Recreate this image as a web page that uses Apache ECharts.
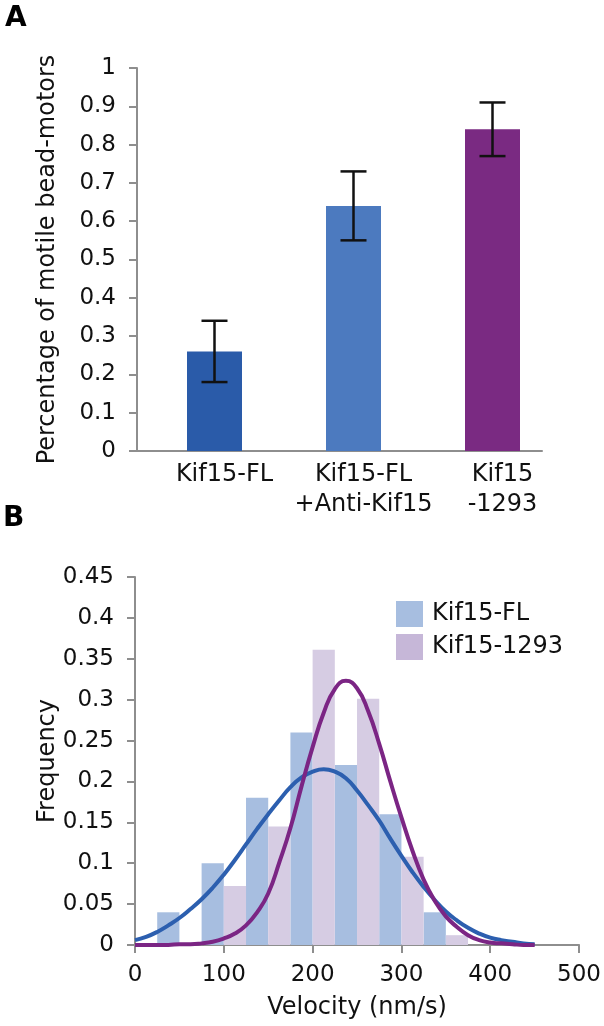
<!DOCTYPE html>
<html>
<head>
<meta charset="utf-8">
<script src="https://cdn.jsdelivr.net/npm/echarts@6/dist/echarts.min.js"></script>
<style>
html, body { margin: 0; padding: 0; background: #fff; }
#chart { width: 604px; height: 1026px; }
</style>
</head>
<body>
<div id="chart"></div>
<script>
// panel A: fraction of motile bead-motors
const groups = ['Kif15-FL', 'Kif15-FL\n+Anti-Kif15', 'Kif15\n-1293'];
const motileFrac = [0.26, 0.64, 0.84];
const motileErr = [0.08, 0.09, 0.07];
const groupColors = ['#2A5BA9', '#4C7ABF', '#7A2A82'];

// panel B: velocity histogram (bins of 50 nm/s)
const binCenters = [50, 100, 150, 200, 250, 300, 350];
const freqFL = [0.04, 0.10, 0.18, 0.26, 0.22, 0.16, 0.04];
const freq1293 = [0, 0.072, 0.145, 0.361, 0.301, 0.108, 0.012];

// fitted curves, every 12.5 nm/s
const fitX = [0, 12.5, 25, 37.5, 50, 62.5, 75, 87.5, 100, 112.5, 125, 137.5, 150, 162.5, 175, 187.5,
  200, 212.5, 225, 237.5, 250, 262.5, 275, 287.5, 300, 312.5, 325, 337.5, 350, 362.5, 375, 387.5,
  400, 412.5, 425, 437.5, 450];
const fitFL = [0.006, 0.010, 0.016, 0.024, 0.033, 0.044, 0.056, 0.070, 0.086, 0.104, 0.123, 0.142, 0.160, 0.177, 0.193, 0.205,
  0.212, 0.215, 0.212, 0.204, 0.189, 0.171, 0.152, 0.130, 0.109, 0.089, 0.071, 0.055, 0.041, 0.030, 0.021, 0.014,
  0.009, 0.006, 0.004, 0.002, 0.001];
const fit1293 = [0, 0, 0, 0, 0.001, 0.001, 0.002, 0.004, 0.008, 0.014, 0.024, 0.040, 0.063, 0.101, 0.143, 0.194,
  0.242, 0.284, 0.313, 0.323, 0.314, 0.286, 0.246, 0.200, 0.156, 0.115, 0.080, 0.054, 0.035, 0.022, 0.012, 0.006,
  0.003, 0.002, 0.001, 0, 0];

const axisGray = '#8E8E8E';
const txt = '#111';
const font = 'DejaVu Sans';

var myChart = echarts.init(document.getElementById('chart'));

const axisLine = { show: true, lineStyle: { color: axisGray, width: 2 } };
const axisTick = { show: true, length: 8, lineStyle: { color: axisGray, width: 2 } };

let option = {
  animation: false,
  textStyle: { fontFamily: font, color: txt },
  graphic: [
    { type: 'text', left: 5, top: 5, style: { text: 'A', font: 'bold 28px "DejaVu Sans"', fill: '#000' } },
    { type: 'text', left: 3, top: 505, style: { text: 'B', font: 'bold 28px "DejaVu Sans"', fill: '#000' } }
  ],
  legend: {
    orient: 'vertical',
    left: 396,
    top: 601,
    padding: 0,
    itemWidth: 27,
    itemHeight: 26,
    itemGap: 7,
    icon: 'rect',
    textStyle: { fontSize: 24, color: txt, fontFamily: font, padding: [0, 0, 0, 4] },
    data: [
      { name: 'Kif15-FL', itemStyle: { color: '#A7BEE0' } },
      { name: 'Kif15-1293', itemStyle: { color: '#C6B7D8' } }
    ]
  },
  grid: [
    { left: 137, right: 62, top: 68, bottom: 575 },
    { left: 145, right: 42, top: 68, bottom: 575 },
    { left: 135, right: 24, top: 577, bottom: 81 }
  ],
  xAxis: [
    {
      gridIndex: 0, type: 'category', data: groups,
      axisLine: axisLine, axisTick: { show: false }, axisLabel: { show: false }
    },
    {
      gridIndex: 1, type: 'category', data: groups,
      axisLine: { show: false }, axisTick: { show: false },
      axisLabel: { interval: 0, fontSize: 24, lineHeight: 30, margin: 9, color: txt, padding: [0, 0, 0, 20] }
    },
    {
      gridIndex: 2, type: 'value', min: 0, max: 500, interval: 100,
      axisLine: axisLine, axisTick: axisTick, splitLine: { show: false },
      axisLabel: { fontSize: 23, margin: 19, color: txt },
      name: 'Velocity (nm/s)', nameLocation: 'middle', nameGap: 51, nameMoveOverlap: false,
      nameTextStyle: { fontSize: 24, color: txt }
    }
  ],
  yAxis: [
    {
      gridIndex: 0, type: 'value', min: 0, max: 1, interval: 0.1,
      axisLine: axisLine, axisTick: axisTick, splitLine: { show: false },
      axisLabel: { fontSize: 23, margin: 21, color: txt },
      name: 'Percentage of motile bead-motors', nameLocation: 'middle', nameGap: 77, nameMoveOverlap: false,
      nameTextStyle: { fontSize: 24, color: txt }
    },
    { gridIndex: 1, type: 'value', min: 0, max: 1, show: false },
    {
      gridIndex: 2, type: 'value', min: 0, max: 0.45, interval: 0.05,
      axisLine: axisLine, axisTick: axisTick, splitLine: { show: false },
      axisLabel: { fontSize: 23, margin: 21, color: txt },
      name: 'Frequency', nameLocation: 'middle', nameGap: 75, nameMoveOverlap: false,
      nameTextStyle: { fontSize: 24, color: txt }
    }
  ],
  series: [
    {
      type: 'bar', xAxisIndex: 1, yAxisIndex: 1, barWidth: 55,
      data: motileFrac.map((v, i) => ({ value: v, itemStyle: { color: groupColors[i] } }))
    },
    {
      // error bars, drawn over the bars
      type: 'custom', xAxisIndex: 1, yAxisIndex: 1, z: 10,
      data: motileFrac.map((v, i) => [i, v - motileErr[i], v + motileErr[i]]),
      encode: { x: 0, y: [1, 2] },
      renderItem: function (params, api) {
        var lo = api.coord([api.value(0), api.value(1)]);
        var hi = api.coord([api.value(0), api.value(2)]);
        var half = 13;
        var style = { stroke: '#111', lineWidth: 2.5 };
        return {
          type: 'group',
          children: [
            { type: 'line', shape: { x1: hi[0], y1: hi[1], x2: lo[0], y2: lo[1] }, style: style },
            { type: 'line', shape: { x1: hi[0] - half, y1: hi[1], x2: hi[0] + half, y2: hi[1] }, style: style },
            { type: 'line', shape: { x1: lo[0] - half, y1: lo[1], x2: lo[0] + half, y2: lo[1] }, style: style }
          ]
        };
      }
    },
    {
      name: 'Kif15-FL', type: 'bar', xAxisIndex: 2, yAxisIndex: 2,
      barGap: '0%', barCategoryGap: '0%',
      itemStyle: { color: '#A7BEE0' },
      data: binCenters.map((x, i) => [x, freqFL[i]])
    },
    {
      name: 'Kif15-1293', type: 'bar', xAxisIndex: 2, yAxisIndex: 2,
      barGap: '0%', barCategoryGap: '0%',
      itemStyle: { color: '#D6CCE3' },
      data: binCenters.map((x, i) => [x, freq1293[i]])
    },
    {
      name: 'Kif15-FL fit', type: 'line', xAxisIndex: 2, yAxisIndex: 2,
      smooth: true, showSymbol: false,
      lineStyle: { color: '#2C5FAF', width: 4 },
      data: fitX.map((x, i) => [x, fitFL[i]])
    },
    {
      name: 'Kif15-1293 fit', type: 'line', xAxisIndex: 2, yAxisIndex: 2,
      smooth: true, showSymbol: false,
      lineStyle: { color: '#7B2584', width: 4 },
      data: fitX.map((x, i) => [x, fit1293[i]])
    }
  ]
};
myChart.setOption(option);
</script>
</body>
</html>
